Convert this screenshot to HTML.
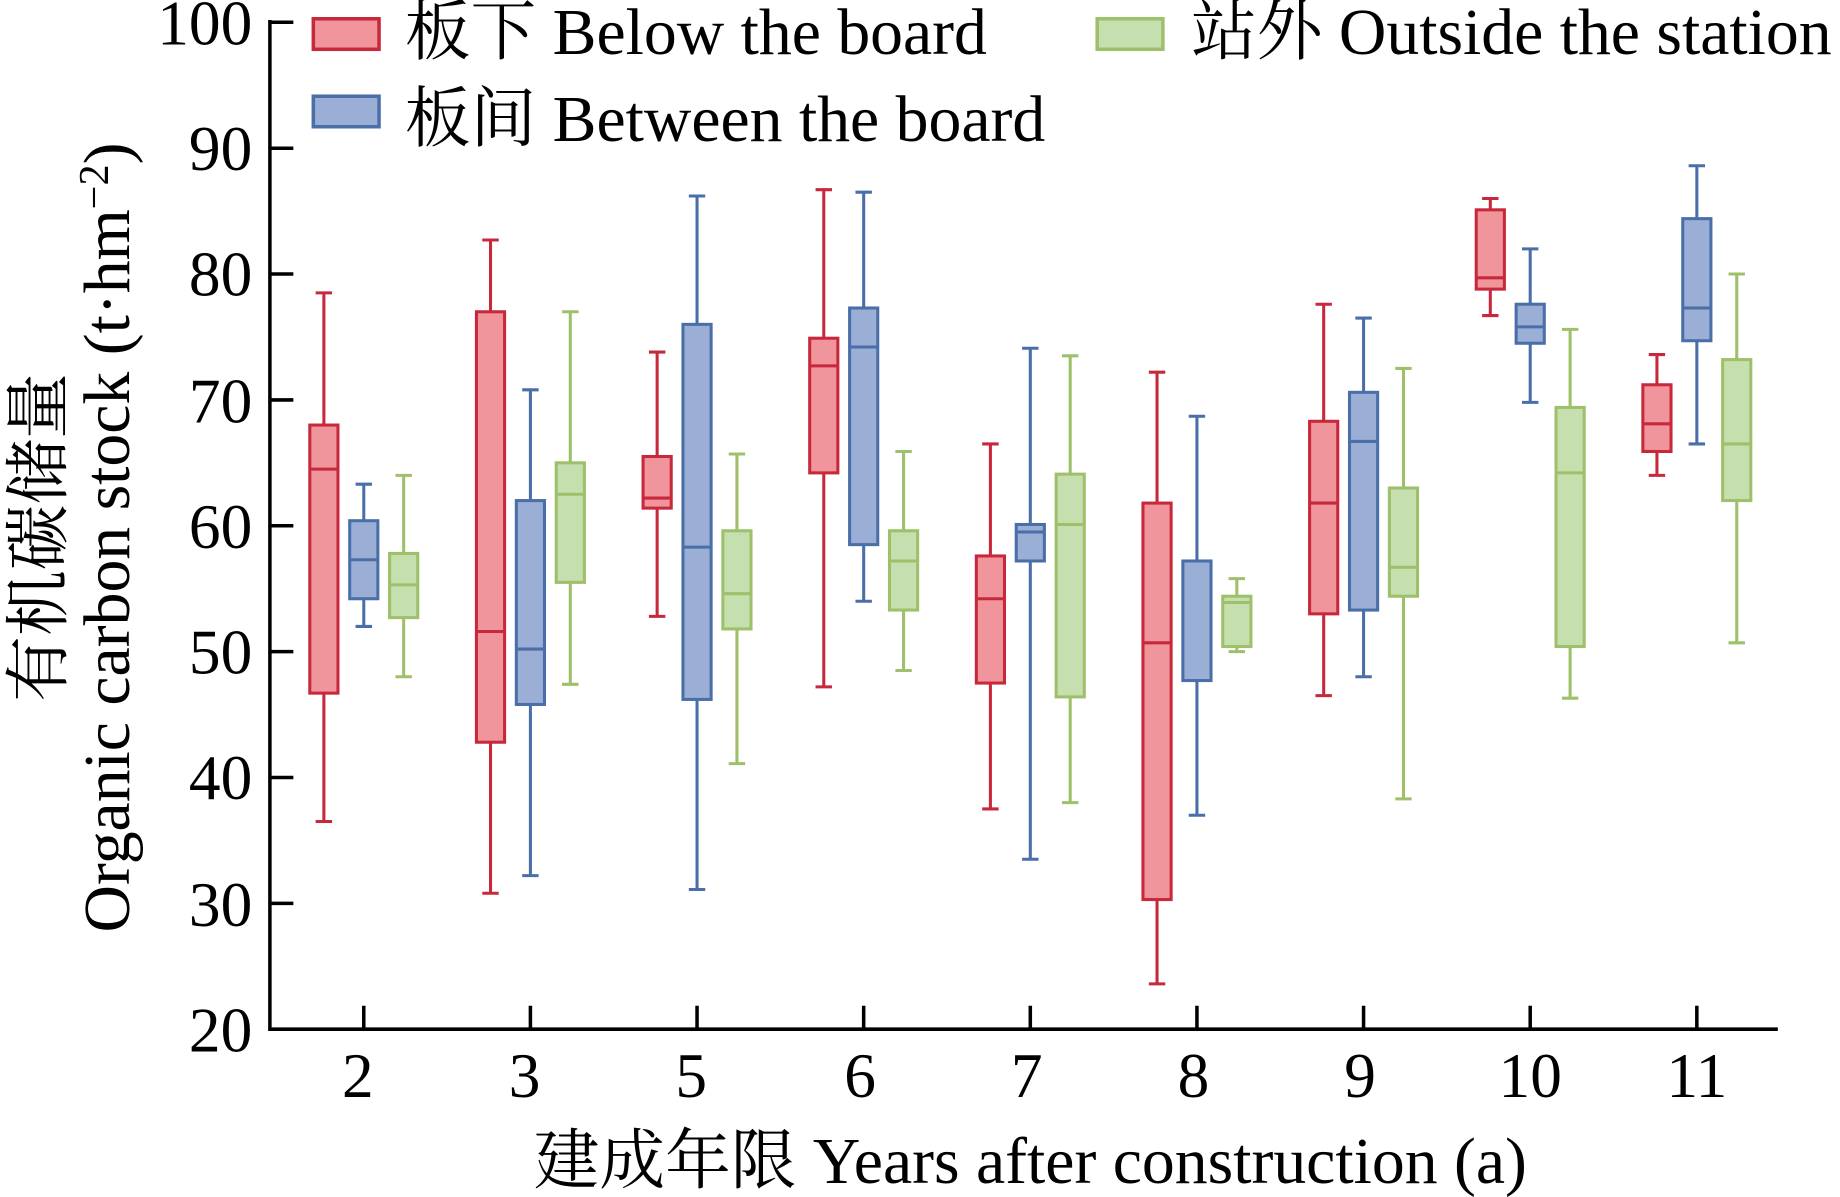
<!DOCTYPE html>
<html><head><meta charset="utf-8"><style>html,body{margin:0;padding:0;background:#fff}svg{display:block}</style></head>
<body>
<svg id="s" width="1840" height="1197" viewBox="0 0 1568 1020" preserveAspectRatio="none" xmlns="http://www.w3.org/2000/svg" font-family="'Liberation Serif','Noto Serif CJK SC',serif">
<g id="boxes"></g>
<g stroke="#000" stroke-width="3" fill="none">
<path d="M230,17 V877 H1515"/>
<path d="M230,19.0h20M230,126.3h20M230,233.5h20M230,340.8h20M230,448h20M230,555.3h20M230,662.5h20M230,769.8h20"/>
<path d="M310,877v-20M452,877v-20M594,877v-20M736,877v-20M878,877v-20M1020,877v-20M1162,877v-20M1304,877v-20M1446,877v-20"/>
</g>
<g font-size="54" text-anchor="end">
<text x="215" y="38">100</text><text x="215" y="145">90</text><text x="215" y="252">80</text><text x="215" y="360">70</text><text x="215" y="467">60</text><text x="215" y="574">50</text><text x="215" y="681">40</text><text x="215" y="789">30</text><text x="215" y="896">20</text>
</g>
<g font-size="54" text-anchor="middle">
<text x="305" y="935">2</text><text x="447" y="935">3</text><text x="589" y="935">5</text><text x="733" y="935">6</text><text x="875" y="935">7</text><text x="1017" y="935">8</text><text x="1159" y="935">9</text><text x="1304" y="935">10</text><text x="1446" y="935">11</text>
</g>
<text x="878" y="1008" font-size="56" text-anchor="middle">建成年限 Years after construction (a)</text>
<text transform="translate(52,458) rotate(-90)" font-size="56" text-anchor="middle">有机碳储量</text>
<text transform="translate(110,458) rotate(-90)" font-size="56" text-anchor="middle">Organic carbon stock (t·hm<tspan dy="-18" font-size="36">−2</tspan><tspan dy="18">)</tspan></text>
<rect x="267" y="16" width="56" height="26" fill="#f0959b" stroke="#c8283c" stroke-width="3"/>
<text x="345" y="46" font-size="56">板下 Below the board</text>
<rect x="267" y="82" width="56" height="26" fill="#9aaed6" stroke="#4a6fa8" stroke-width="3"/>
<text x="345" y="120" font-size="56">板间 Between the board</text>
<rect x="935" y="16" width="56" height="26" fill="#c5dfae" stroke="#9ec06a" stroke-width="3"/>
<text x="1015" y="46" font-size="56">站外 Outside the station</text>
</svg>
<script>
const Y=v=>877-(v-20)*10.725;
const cols=[["#c8283c","#f0959b",-34],["#4a6fa8","#9aaed6",0],["#9ec06a","#c5dfae",34]];
const xs=[310,452,594,736,878,1020,1162,1304,1446];
const D=[
[[36.5,46.7,64.5,68,78.5],[52,54.2,57.3,60.4,63.3],[48,52.7,55.3,57.8,64]],
[[30.8,42.8,51.6,77,82.7],[32.2,45.8,50.2,62,70.8],[47.4,55.5,62.5,65,77]],
[[52.8,61.4,62.2,65.5,73.8],[31.1,46.2,58.3,76,86.2],[41.1,51.8,54.6,59.6,65.7]],
[[47.2,64.2,72.7,74.9,86.7],[54,58.5,74.2,77.3,86.5],[48.5,53.3,57.2,59.6,65.9]],
[[37.5,47.5,54.2,57.6,66.5],[33.5,57.2,59.5,60.1,74.1],[38,46.4,60.1,64.1,73.5]],
[[23.6,30.3,50.7,61.8,72.2],[37,47.7,57.2,57.2,68.7],[50,50.4,53.9,54.4,55.8]],
[[46.5,53,61.8,68.3,77.6],[48,53.3,66.7,70.6,76.5],[38.3,54.4,56.7,63,72.5]],
[[76.7,78.8,79.7,85.1,86],[69.8,74.5,75.8,77.6,82],[46.3,50.4,64.2,69.4,75.6]],
[[64,65.9,68.1,71.2,73.6],[66.5,74.7,77.3,84.4,88.6],[50.7,62,66.5,73.2,80]]];
let h="";
D.forEach((g,i)=>g.forEach((d,j)=>{const [s,f,o]=cols[j];const x=xs[i]+o;
h+=`<g stroke="${s}" stroke-width="2.6"><path d="M${x},${Y(d[0])}V${Y(d[1])}M${x},${Y(d[3])}V${Y(d[4])}M${x-7},${Y(d[0])}h14M${x-7},${Y(d[4])}h14" fill="none"/><rect x="${x-12}" y="${Y(d[3])}" width="24" height="${Y(d[1])-Y(d[3])}" fill="${f}"/><path d="M${x-12},${Y(d[2])}h24"/></g>`;}));
document.getElementById("boxes").innerHTML=h;
</script>
</body></html>
